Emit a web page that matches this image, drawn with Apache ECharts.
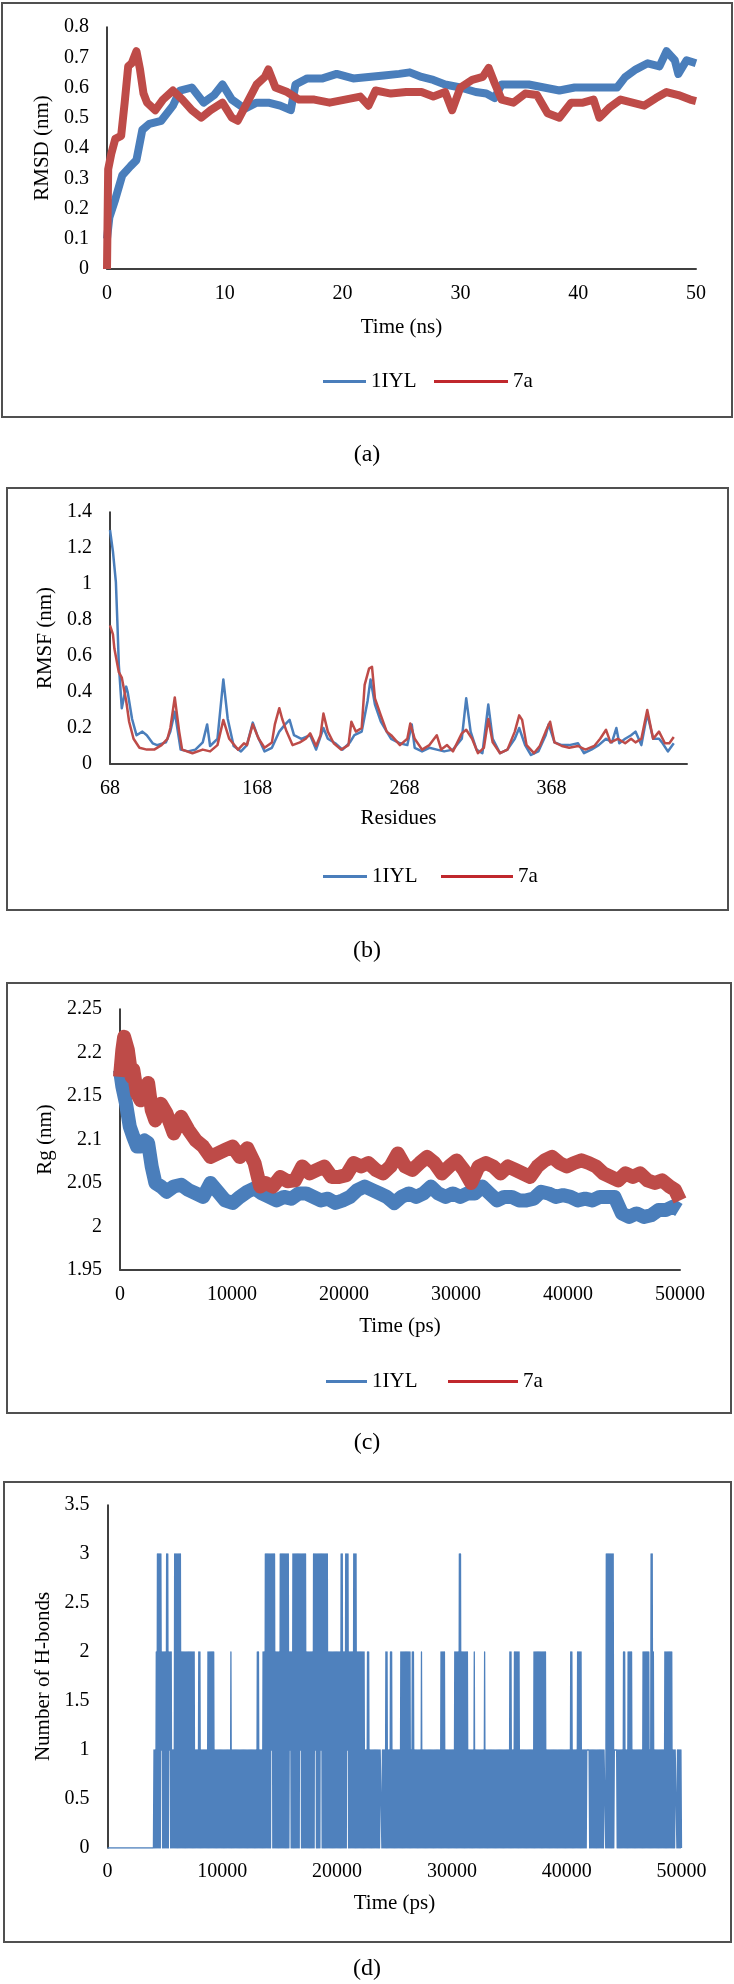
<!DOCTYPE html>
<html>
<head>
<meta charset="utf-8">
<title>MD analysis</title>
<script src="https://cdn.jsdelivr.net/npm/echarts@6/dist/echarts.min.js"></script>
<style>
  html, body { margin: 0; padding: 0; background: #fff; }
  #chart { width: 734px; height: 1984px; }
</style>
</head>
<body>
<div id="chart"></div>
<script>
// (a) RMSD, time in ns
const rmsdTime1iyl = [0,0.2,0.7,1.3,2.0,2.5,2.7,3.0,3.6,4.6,5.6,6.2,7.2,8.2,9.1,9.8,10.6,11.7,12.7,13.7,14.7,15.6,16.0,17.0,18.3,19.5,20.9,22.2,23.5,24.8,25.7,26.7,27.7,28.7,30.0,31.3,32.2,32.9,33.5,34.5,35.8,37.1,38.4,39.7,41.0,42.3,43.3,44.0,44.9,45.9,46.9,47.5,48.2,48.5,49.2,50]
const rmsd1iyl = [0.10,0.17,0.23,0.31,0.34,0.36,0.40,0.46,0.48,0.49,0.54,0.59,0.60,0.55,0.575,0.61,0.56,0.53,0.55,0.55,0.54,0.525,0.61,0.63,0.63,0.645,0.63,0.635,0.64,0.645,0.65,0.635,0.625,0.61,0.60,0.585,0.58,0.565,0.61,0.61,0.61,0.60,0.59,0.60,0.60,0.60,0.60,0.635,0.66,0.68,0.67,0.72,0.69,0.645,0.69,0.68]
const rmsdTime7a = [0,0.1,0.36,0.7,1.2,1.5,1.8,2.1,2.5,2.8,3.1,3.4,4.1,4.75,5.6,6.4,7.2,8.0,8.8,9.8,10.6,11.1,11.9,12.7,13.4,13.7,14.3,15.3,16.3,17.6,18.9,20.2,21.5,22.2,22.8,24.1,25.4,26.7,27.7,28.7,29.3,30.0,31.0,31.9,32.4,32.9,33.5,34.5,35.5,36.5,37.4,38.4,39.4,40.4,41.3,41.8,42.7,43.6,44.6,45.6,46.6,47.5,48.5,49.5,50]
const rmsd7a = [0,0.33,0.38,0.43,0.44,0.55,0.67,0.68,0.72,0.66,0.58,0.55,0.525,0.56,0.59,0.56,0.525,0.50,0.525,0.55,0.50,0.49,0.55,0.61,0.635,0.66,0.60,0.585,0.56,0.56,0.55,0.56,0.57,0.54,0.59,0.58,0.585,0.585,0.57,0.585,0.525,0.60,0.625,0.635,0.665,0.615,0.56,0.55,0.58,0.575,0.515,0.50,0.55,0.55,0.56,0.50,0.535,0.56,0.55,0.54,0.565,0.585,0.575,0.56,0.555]

// (b) RMSF per residue
const rmsfRes1iyl = [68,70,71,72,73,74,76,79,80,83,86,90,93,97,100,106,109,112,116,121,126,131,134,136,141,145,148,152,157,161,165,168,173,178,183,187,190,193,198,204,208,213,216,221,226,231,234,239,243,245,248,252,256,259,265,270,273,275,280,285,290,295,301,307,310,313,317,321,325,328,333,338,343,346,350,354,359,364,366,370,375,380,386,390,395,400,405,409,412,414,418,422,425,429,433,437,441,443,447,451]
const rmsf1iyl = [1.30,1.18,1.17,1.01,0.79,0.55,0.31,0.43,0.40,0.25,0.16,0.18,0.16,0.115,0.105,0.12,0.18,0.29,0.08,0.07,0.08,0.12,0.22,0.10,0.14,0.47,0.25,0.10,0.07,0.105,0.23,0.16,0.07,0.09,0.18,0.22,0.245,0.16,0.14,0.16,0.08,0.20,0.14,0.115,0.08,0.12,0.16,0.18,0.35,0.47,0.33,0.235,0.18,0.14,0.115,0.105,0.22,0.09,0.07,0.09,0.08,0.07,0.08,0.14,0.365,0.18,0.08,0.06,0.33,0.14,0.06,0.08,0.14,0.20,0.105,0.05,0.07,0.16,0.22,0.12,0.105,0.105,0.115,0.06,0.08,0.105,0.14,0.12,0.20,0.115,0.14,0.16,0.18,0.105,0.28,0.14,0.14,0.12,0.07,0.115]
const rmsfRes7a = [68,70,71,74,76,79,81,84,88,93,98,103,107,109,112,115,117,124,131,136,141,145,149,155,159,161,165,169,173,178,180,183,185,188,192,197,201,204,208,211,213,216,220,225,230,232,235,239,241,244,246,248,252,256,259,265,270,272,275,280,285,290,293,297,301,307,310,314,318,322,325,328,333,338,343,346,348,351,356,360,364,367,370,375,380,386,391,397,401,405,408,413,418,422,425,429,433,437,441,445,448,451]
const rmsf7a = [0.77,0.72,0.64,0.51,0.48,0.35,0.235,0.14,0.09,0.08,0.08,0.105,0.14,0.20,0.37,0.18,0.08,0.06,0.08,0.07,0.105,0.245,0.14,0.08,0.115,0.105,0.22,0.14,0.09,0.12,0.22,0.31,0.25,0.18,0.105,0.12,0.14,0.17,0.10,0.16,0.28,0.18,0.115,0.08,0.105,0.235,0.18,0.20,0.44,0.53,0.54,0.365,0.27,0.18,0.16,0.105,0.14,0.225,0.14,0.08,0.105,0.16,0.08,0.105,0.07,0.17,0.19,0.14,0.06,0.09,0.25,0.12,0.06,0.08,0.18,0.27,0.245,0.105,0.06,0.10,0.18,0.235,0.12,0.10,0.09,0.10,0.08,0.10,0.14,0.19,0.12,0.14,0.115,0.14,0.12,0.14,0.30,0.14,0.18,0.115,0.115,0.15]

// (c) Rg, time in ps
const rgTime1iyl = [0,210,540,870,1190,1520,1850,2180,2510,2830,3160,3650,4150,4800,5460,6110,6770,7420,8080,8740,9390,10050,10700,11360,12010,12670,13330,13980,14640,15290,15950,16610,17260,17920,18570,19230,19890,20540,21200,21850,22510,23170,23820,24480,25130,25790,26440,27100,27760,28410,29070,29720,30380,31040,31690,32350,33000,33660,34310,34970,35630,36280,36940,37590,38250,38910,39560,40220,40870,41530,42180,42840,43500,44150,44810,45460,46120,46780,47430,48090,48740,49400,49900]
const rg1iyl = [2.18,2.161,2.141,2.115,2.103,2.092,2.092,2.099,2.096,2.069,2.05,2.046,2.04,2.046,2.048,2.042,2.038,2.034,2.05,2.04,2.03,2.027,2.034,2.04,2.044,2.038,2.034,2.03,2.034,2.032,2.038,2.038,2.034,2.03,2.032,2.027,2.03,2.034,2.042,2.046,2.042,2.038,2.034,2.027,2.034,2.038,2.034,2.038,2.046,2.038,2.034,2.038,2.034,2.038,2.038,2.046,2.038,2.03,2.034,2.034,2.03,2.03,2.032,2.04,2.038,2.034,2.036,2.034,2.03,2.032,2.03,2.034,2.034,2.034,2.015,2.011,2.015,2.011,2.013,2.019,2.019,2.023,2.019]
const rgTime7a = [0,210,370,700,1030,1190,1520,1850,2180,2510,2830,3160,3650,4150,4800,5460,6110,6770,7420,8080,8740,9390,10050,10700,11360,12010,12510,13000,13650,14310,14960,15620,16270,16930,17590,18240,18900,19560,20210,20870,21530,22180,22840,23490,24150,24800,25460,26110,26770,27420,28080,28740,29390,30050,30700,31360,32020,32670,33330,33980,34640,35300,35950,36610,37270,37920,38580,39230,39890,40540,41200,41850,42510,43160,43820,44480,45130,45790,46440,47100,47760,48410,49070,49560,50000]
const rg7a = [2.172,2.203,2.218,2.203,2.172,2.18,2.153,2.145,2.157,2.165,2.134,2.122,2.141,2.13,2.107,2.126,2.111,2.099,2.092,2.08,2.084,2.088,2.092,2.08,2.09,2.073,2.046,2.05,2.046,2.057,2.052,2.053,2.069,2.061,2.065,2.069,2.057,2.057,2.059,2.073,2.069,2.073,2.065,2.061,2.069,2.084,2.069,2.065,2.073,2.08,2.073,2.061,2.069,2.076,2.065,2.05,2.069,2.073,2.069,2.061,2.069,2.065,2.061,2.057,2.069,2.076,2.08,2.073,2.069,2.073,2.076,2.073,2.069,2.061,2.057,2.053,2.061,2.057,2.061,2.053,2.05,2.053,2.046,2.042,2.03]

// (d) H-bonds, time in ps: the count flickers 0/1 from the onset,
// these spans are where it reaches 2 or 3, gaps are where it holds at 1
const hbondOnset = 3950
const hbondEnd = 50000
const hbondTwo = [[4200,5500],[5750,7550],[7850,8050],[8700,9250],[10650,10750],[13000,13150],[13450,22350],[22600,22700],[24200,24300],[24550,24700],[25450,26300],[26500,26600],[27250,27350],[29000,29300],[30200,31300],[31850,31950],[32750,32850],[35000,35150],[35400,35850],[37100,38100],[40250,40400],[40900,41250],[43350,44000],[44850,45000],[45250,45650],[46600,47150],[47300,47550],[48450,49100]]
const hbondThree = [[4250,4600],[5100,5250],[5750,6300],[13650,14500],[14950,15750],[16100,17250],[17900,19100],[20300,20400],[20700,20900],[21400,21600],[30550,30750],[43350,44000],[47300,47450]]
const hbondGaps = [[4700,4700],[5400,5400],[14300,14300],[15900,15900],[16800,16800],[18100,18100],[18600,18600],[20900,20900],[23800,23800],[41800,41900],[43300,43300],[44200,44300],[49500,49500]]

const FONT = "'Liberation Serif', 'Times New Roman', serif"
const BLUE = '#4a7ebb'
const RED = '#be4b48'

function pairs(xs, ys) {
  return xs.map(function (x, i) { return [x, ys[i]] })
}

function inSpans(t, spans) {
  for (let s of spans) {
    if (t >= s[0] && t <= s[1]) return true
  }
  return false
}

// zig-zag between floor and peak in each 100 ps step
function hbondData() {
  let out = []
  for (let t = 0; t <= hbondEnd; t += 100) {
    if (t < hbondOnset) { out.push([t, 0]); continue }
    let lo = inSpans(t, hbondGaps) ? 1 : 0
    let hi = inSpans(t, hbondThree) ? 3 : (inSpans(t, hbondTwo) ? 2 : 1)
    out.push([t, lo])
    if (t < hbondEnd) out.push([t + 50, hi])
  }
  return out
}

function plain(v) { return String(v) }

function labelStyle(margin, extra) {
  return Object.assign({ fontSize: 20, fontFamily: FONT, color: '#000', margin: margin, formatter: plain }, extra || {})
}

function xAxisOf(grid, opts) {
  return Object.assign({
    type: 'value',
    gridIndex: grid,
    nameLocation: 'middle',
    nameTextStyle: { fontSize: 21, fontFamily: FONT, color: '#000' },
    axisLine: { show: true, lineStyle: { color: '#404040', width: 2 } },
    axisTick: { show: false },
    splitLine: { show: false },
    axisLabel: labelStyle(15)
  }, opts)
}

function yAxisOf(grid, opts) {
  return Object.assign({
    type: 'value',
    gridIndex: grid,
    nameLocation: 'middle',
    nameTextStyle: { fontSize: 21, fontFamily: FONT, color: '#000' },
    axisLine: { show: true, lineStyle: { color: '#000', width: 1.5 } },
    axisTick: { show: false },
    splitLine: { show: false },
    axisLabel: labelStyle(18)
  }, opts)
}

function legendOf(name, color, left, top, w) {
  return {
    data: [{ name: name, itemStyle: { color: color } }],
    left: left, top: top, padding: 0,
    icon: 'rect', itemWidth: w, itemHeight: 3,
    selectedMode: false,
    textStyle: { fontSize: 21, fontFamily: FONT, color: '#000' }
  }
}

function caption(text, top) {
  return {
    text: text, left: 'center', top: top, padding: 0,
    textStyle: { fontSize: 24, fontWeight: 'normal', fontFamily: FONT, color: '#000' }
  }
}

function frame(x, y, w, h) {
  return {
    type: 'rect', shape: { x: x, y: y, width: w, height: h },
    style: { fill: 'none', stroke: '#505050', lineWidth: 2 }, silent: true
  }
}

function lineSeries(name, xi, data, color, width) {
  return {
    name: name, type: 'line', xAxisIndex: xi, yAxisIndex: xi,
    data: data, showSymbol: false, symbol: 'none',
    lineStyle: { color: color, width: width, join: 'round' },
    itemStyle: { color: color }
  }
}

let chart = echarts.init(document.getElementById('chart'))
chart.setOption({
  animation: false,
  backgroundColor: '#fff',
  title: [caption('(a)', 443), caption('(b)', 939), caption('(c)', 1431), caption('(d)', 1957)],
  graphic: [frame(2, 3, 730, 414), frame(7, 488, 721, 422), frame(7, 983, 724, 430), frame(4, 1482, 727, 460)],
  legend: [
    legendOf('1IYL', BLUE, 323, 371, 43), legendOf('7a', '#c0282d', 434, 371, 74),
    legendOf('1IYL', BLUE, 323, 866, 44), legendOf('7a', '#c0282d', 441, 866, 72),
    legendOf('1IYL', BLUE, 326, 1371, 41), legendOf('7a', '#c0282d', 448, 1371, 70)
  ],
  grid: [
    { left: 107, top: 27, width: 589, height: 242 },
    { left: 110, top: 512, width: 577, height: 252 },
    { left: 120, top: 1009, width: 560, height: 261 },
    { left: 107.5, top: 1505, width: 574, height: 343 }
  ],
  xAxis: [
    xAxisOf(0, { min: 0, max: 50, interval: 10, name: 'Time (ns)', nameGap: 48 }),
    xAxisOf(1, { min: 68, max: 460, name: 'Residues', nameGap: 44,
      axisLabel: labelStyle(15, { customValues: [68, 168, 268, 368] }) }),
    xAxisOf(2, { min: 0, max: 50000, interval: 10000, name: 'Time (ps)', nameGap: 46 }),
    xAxisOf(3, { min: 0, max: 50000, interval: 10000, name: 'Time (ps)', nameGap: 45,
      axisLine: { show: false }, axisLabel: labelStyle(14) })
  ],
  yAxis: [
    yAxisOf(0, { min: 0, max: 0.8, interval: 0.1, name: 'RMSD (nm)', nameGap: 53 }),
    yAxisOf(1, { min: 0, max: 1.4, interval: 0.2, name: 'RMSF (nm)', nameGap: 52 }),
    yAxisOf(2, { min: 1.95, max: 2.25, name: 'Rg (nm)', nameGap: 62,
      axisLabel: labelStyle(18, { customValues: [1.95, 2, 2.05, 2.1, 2.15, 2.2, 2.25] }) }),
    yAxisOf(3, { min: 0, max: 3.5, interval: 0.5, name: 'Number of H-bonds', nameGap: 54 })
  ],
  series: [
    lineSeries('1IYL', 0, pairs(rmsdTime1iyl, rmsd1iyl), BLUE, 8),
    lineSeries('7a', 0, pairs(rmsdTime7a, rmsd7a), RED, 8),
    lineSeries('1IYL', 1, pairs(rmsfRes1iyl, rmsf1iyl), BLUE, 2.5),
    lineSeries('7a', 1, pairs(rmsfRes7a, rmsf7a), RED, 2.5),
    lineSeries('1IYL', 2, pairs(rgTime1iyl, rg1iyl), BLUE, 14),
    lineSeries('7a', 2, pairs(rgTime7a, rg7a), RED, 14),
    lineSeries('H-bonds', 3, hbondData(), '#4f81bd', 1.3)
  ]
})
</script>
</body>
</html>
